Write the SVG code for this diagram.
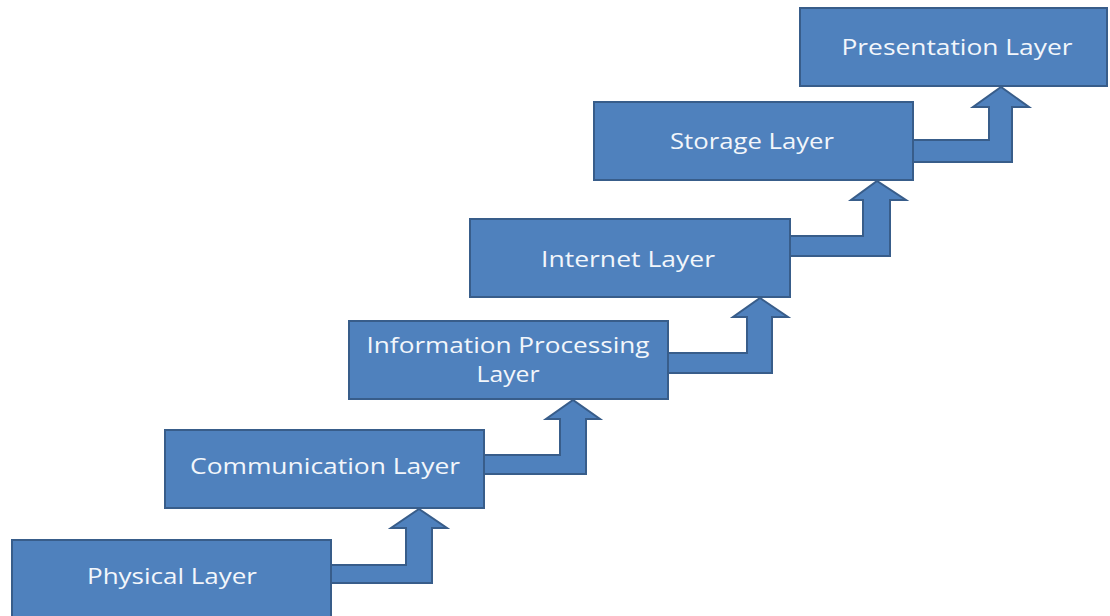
<svg xmlns="http://www.w3.org/2000/svg" width="1110" height="616" viewBox="0 0 1110 616">
<style>
.box{fill:#4f81bd;stroke:#385d8a;stroke-width:2}
.arr{fill:#4f81bd;stroke:#385d8a;stroke-width:2;stroke-linejoin:miter}
.lbl{font-family:"Open Sans","Liberation Sans",sans-serif;font-size:21.5px;fill:#f2f6fb;text-anchor:middle}
</style>
<rect width="1110" height="616" fill="#ffffff"/>
<g id="connectors">
<path class="arr" d="M331,565 H406 V528 H391 L419,509 L447,528 H432 V583 H331 Z"/>
<path class="arr" d="M484,455 H560 V419 H546 L573,400 L600,419 H586 V474 H484 Z"/>
<path class="arr" d="M668,353 H747 V317 H733 L760,298 L788,317 H772 V373 H668 Z"/>
<path class="arr" d="M790,236 H863 V200 H851 L877,181 L906,200 H890 V256 H790 Z"/>
<path class="arr" d="M913,140 H989 V107 H973 L1001,87 L1029,107 H1012 V162 H913 Z"/>
</g>
<g id="physical">
<rect class="box" x="12" y="540" width="319" height="78"/>
<text class="lbl" x="172" y="584" textLength="170" lengthAdjust="spacingAndGlyphs">Physical Layer</text>
</g>
<g id="communication">
<rect class="box" x="165" y="430" width="319" height="78"/>
<text class="lbl" x="325" y="474" textLength="270" lengthAdjust="spacingAndGlyphs">Communication Layer</text>
</g>
<g id="information">
<rect class="box" x="349" y="321" width="319" height="78"/>
<text class="lbl" x="508" y="353" textLength="283" lengthAdjust="spacingAndGlyphs">Information Processing</text>
<text class="lbl" x="508" y="382" textLength="63" lengthAdjust="spacingAndGlyphs">Layer</text>
</g>
<g id="internet">
<rect class="box" x="470" y="219" width="320" height="78"/>
<text class="lbl" x="628" y="267" textLength="174" lengthAdjust="spacingAndGlyphs">Internet Layer</text>
</g>
<g id="storage">
<rect class="box" x="594" y="102" width="319" height="78"/>
<text class="lbl" x="752" y="149" textLength="164" lengthAdjust="spacingAndGlyphs">Storage Layer</text>
</g>
<g id="presentation">
<rect class="box" x="800" y="8" width="307" height="78"/>
<text class="lbl" x="957" y="55" textLength="231" lengthAdjust="spacingAndGlyphs">Presentation Layer</text>
</g>
</svg>
